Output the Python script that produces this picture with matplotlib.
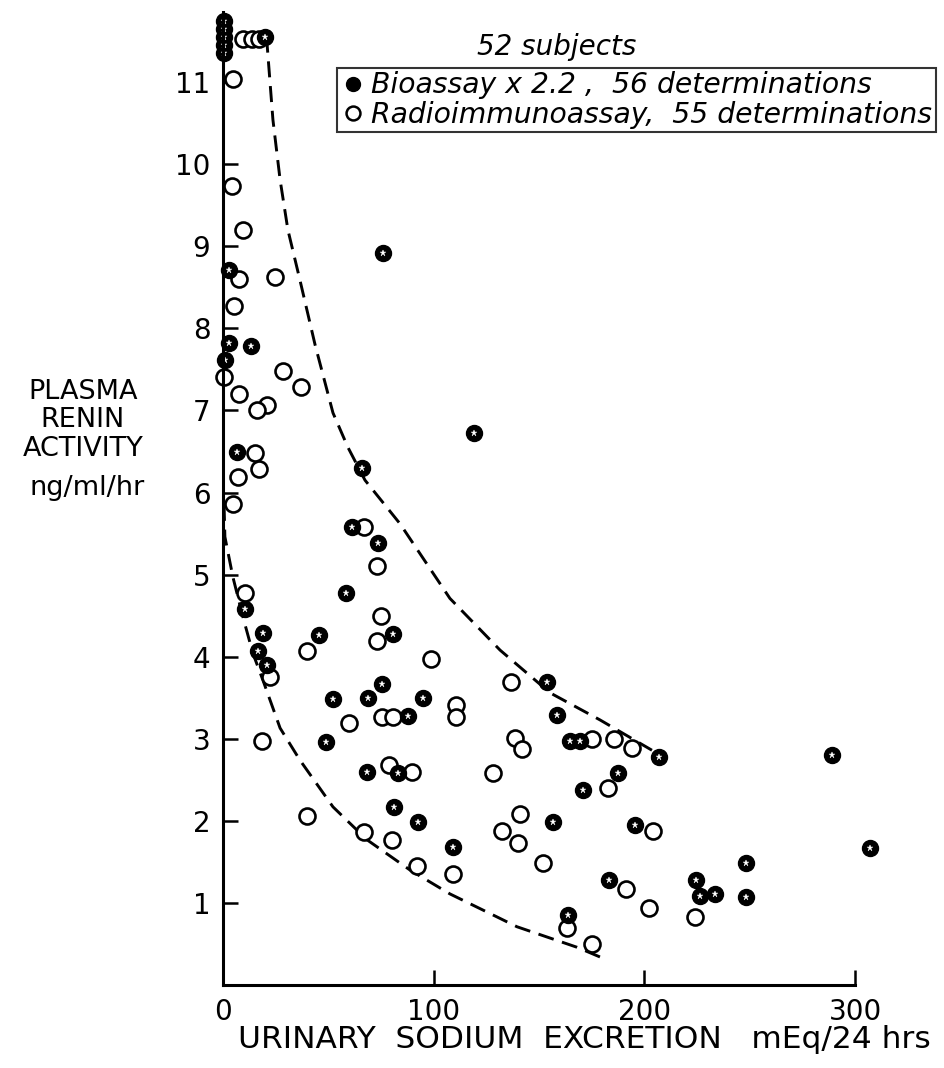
import matplotlib
matplotlib.use('Agg')
import matplotlib.pyplot as plt
from matplotlib.lines import Line2D

plt.rcParams['font.family'] = ['DejaVu Sans']

# Bioassay x 2.2 (filled circles): sodium excretion, plasma renin activity
bio_na = [0.5, 0.5, 0.5, 0.5, 0.5, 19.9, 2.8, 2.8, 13.3, 0.9, 6.6, 76.0, 66.0,
          119.0, 61.2, 73.6, 58.4, 10.4, 19.0, 45.6, 80.7, 16.6, 20.9, 75.5,
          52.2, 68.8, 94.9, 87.8, 48.9, 68.3, 83.0, 81.2, 92.5, 109.2, 153.8,
          158.5, 164.7, 169.4, 206.9, 187.5, 170.9, 156.6, 195.5, 183.2, 163.7,
          224.5, 226.4, 233.5, 248.2, 248.2, 289.0, 307.0]
bio_pra = [11.35, 11.45, 11.55, 11.65, 11.75, 11.55, 8.71, 7.82, 7.78, 7.61,
           6.49, 8.92, 6.30, 6.72, 5.58, 5.38, 4.77, 4.58, 4.29, 4.26, 4.28,
           4.07, 3.90, 3.67, 3.48, 3.50, 3.50, 3.28, 2.96, 2.59, 2.58, 2.17,
           1.99, 1.68, 3.69, 3.29, 2.97, 2.97, 2.78, 2.58, 2.38, 1.99, 1.95,
           1.28, 0.85, 1.28, 1.08, 1.11, 1.49, 1.07, 2.80, 1.67]

# Radioimmunoassay (open circles)
ria_na = [9.5, 13.8, 17.1, 4.7, 4.3, 9.5, 7.6, 24.7, 5.2, 0.5, 28.5, 37.0, 7.6,
          20.9, 16.1, 15.2, 17.1, 7.1, 4.7, 66.9, 73.1, 10.4, 75.0, 73.1, 39.9,
          98.7, 22.3, 75.5, 80.7, 59.8, 18.5, 110.6, 110.6, 78.8, 89.7, 128.1,
          39.9, 132.4, 66.9, 80.2, 92.1, 109.2, 136.7, 138.6, 141.9, 175.1,
          185.6, 194.1, 182.7, 141.0, 140.0, 204.1, 151.9, 191.3, 202.2, 163.3,
          175.1, 224.0]
ria_pra = [11.52, 11.52, 11.52, 11.04, 9.74, 9.20, 8.60, 8.62, 8.27, 7.41,
           7.48, 7.28, 7.20, 7.06, 7.00, 6.48, 6.29, 6.19, 5.86, 5.58, 5.10,
           4.77, 4.49, 4.19, 4.07, 3.97, 3.75, 3.26, 3.26, 3.19, 2.97, 3.41,
           3.26, 2.68, 2.59, 2.58, 2.06, 1.88, 1.86, 1.77, 1.45, 1.35, 3.69,
           3.01, 2.87, 3.00, 3.00, 2.89, 2.40, 2.08, 1.73, 1.88, 1.49, 1.17,
           0.94, 0.69, 0.50, 0.83]

# hand-drawn envelope curves (dashed)
upper_na = [19.9, 20.9, 23.7, 27.1, 30.8, 36.5, 43.7, 52.2, 59.3, 67.4, 84.0,
            107.7, 131.5, 155.2, 178.9, 203.6]
upper_pra = [11.55, 11.47, 10.54, 9.81, 9.20, 8.59, 7.80, 6.97, 6.55, 6.15,
             5.62, 4.71, 4.08, 3.56, 3.23, 2.86]
lower_na = [0.5, 0.9, 4.7, 9.5, 14.2, 19.0, 27.1, 36.5, 52.2, 68.3, 88.8,
            107.7, 130.0, 139.5, 168.0, 180.0]
lower_pra = [5.85, 5.46, 4.97, 4.48, 4.04, 3.71, 3.13, 2.74, 2.17, 1.77, 1.40,
             1.11, 0.83, 0.71, 0.46, 0.33]

x_ticks = [0, 100, 200, 300]
y_ticks = [1, 2, 3, 4, 5, 6, 7, 8, 9, 10, 11]

W, H = 945, 1068
fig = plt.figure(figsize=(W / 100, H / 100), dpi=100)
ax = fig.add_axes([223 / W, 83 / H, 1 - 223 / W, 1 - 83 / H])
ax.set_xlim(0, 342.7)
ax.set_ylim(0, 12.0)

for side in ('top', 'right'):
    ax.spines[side].set_visible(False)
ax.spines['left'].set_linewidth(2.2)
ax.spines['bottom'].set_linewidth(2.2)
ax.spines['left'].set_bounds(0, 11.85)
ax.spines['bottom'].set_bounds(0, 300)

ax.set_xticks(x_ticks)
ax.set_yticks(y_ticks)
ax.tick_params(axis='both', direction='in', length=11, width=1.8,
               labelsize=20, pad=9)

dash = (0, (5.5, 3.0))
ax.plot(upper_na, upper_pra, color='black', lw=2.1, ls=dash)
ax.plot(lower_na, lower_pra, color='black', lw=2.1, ls=dash)

ax.plot(ria_na, ria_pra, 'o', ms=11.5, mfc='white', mec='black', mew=1.9,
        clip_on=False)
ax.plot(bio_na, bio_pra, 'o', ms=11.5, mfc='black', mec='black', mew=1.0,
        clip_on=False)
ax.plot(bio_na, bio_pra, '*', ms=5, mfc='white', mec='white', mew=0.3,
        clip_on=False)

# y label written horizontally to the left of the axis
ylab = dict(ha='center', va='center', fontsize=19.5)
fig.text(83 / W, 1 - 392 / H, 'PLASMA', **ylab)
fig.text(83 / W, 1 - 420 / H, 'RENIN', **ylab)
fig.text(83 / W, 1 - 449 / H, 'ACTIVITY', **ylab)
fig.text(87 / W, 1 - 488 / H, 'ng/ml/hr', **ylab)

fig.text(584 / W, 1 - 1040 / H, 'URINARY  SODIUM  EXCRETION   mEq/24 hrs',
         ha='center', va='center', fontsize=22.5)

fig.text(557 / W, 1 - 47 / H, '52 subjects', ha='center', va='center',
         fontsize=20, style='italic')

handles = [
    Line2D([], [], ls='none', marker='o', ms=10, mfc='black', mec='black'),
    Line2D([], [], ls='none', marker='o', ms=10, mfc='white', mec='black',
           mew=1.8),
]
labels = ['Bioassay x 2.2 ,  56 determinations',
          'Radioimmunoassay,  55 determinations']
leg = fig.legend(handles, labels, loc='upper left',
                 bbox_to_anchor=(337 / W, 1 - 68 / H), frameon=True,
                 fancybox=False, edgecolor='black', borderaxespad=0,
                 handletextpad=0.2, handlelength=0.9, borderpad=0.12,
                 labelspacing=0.05, prop={'size': 20.3, 'style': 'italic'})
leg.get_frame().set_linewidth(1.5)

fig.savefig('out.png', dpi=100)
